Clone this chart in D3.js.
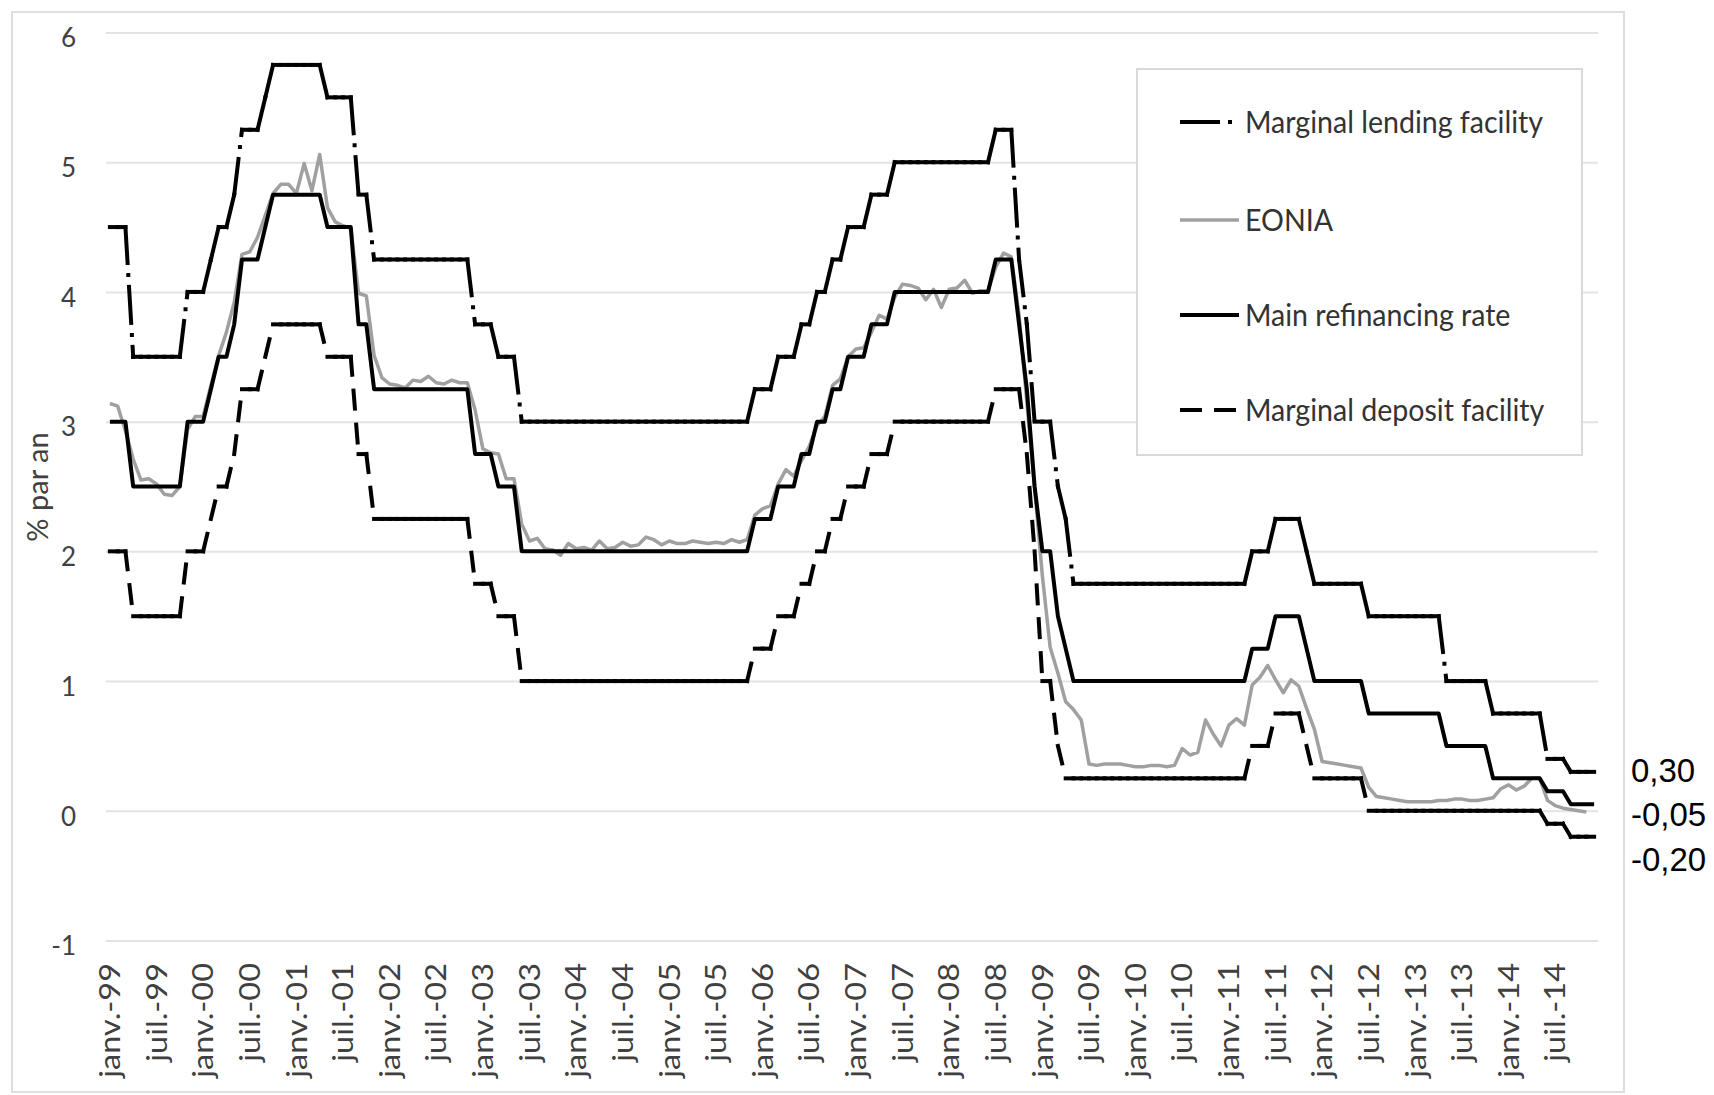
<!DOCTYPE html>
<html>
<head>
<meta charset="utf-8">
<script src="https://cdn.jsdelivr.net/npm/d3@7"></script>
<style>
body { margin: 0; background: #fff; }
</style>
</head>
<body>
<svg id="chart" width="1714" height="1095"></svg>
<script>
// monthly values, janv. 1999 -> dec. 2014 (one line per year)
var mlf = [
  4.5,4.5,4.5,3.5,3.5,3.5,3.5,3.5,3.5,3.5,4,4,
  4,4.25,4.5,4.5,4.75,5.25,5.25,5.25,5.5,5.75,5.75,5.75,
  5.75,5.75,5.75,5.75,5.5,5.5,5.5,5.5,4.75,4.75,4.25,4.25,
  4.25,4.25,4.25,4.25,4.25,4.25,4.25,4.25,4.25,4.25,4.25,3.75,
  3.75,3.75,3.5,3.5,3.5,3,3,3,3,3,3,3,
  3,3,3,3,3,3,3,3,3,3,3,3,
  3,3,3,3,3,3,3,3,3,3,3,3.25,
  3.25,3.25,3.5,3.5,3.5,3.75,3.75,4,4,4.25,4.25,4.5,
  4.5,4.5,4.75,4.75,4.75,5,5,5,5,5,5,5,
  5,5,5,5,5,5,5.25,5.25,5.25,4.25,3.75,3,
  3,3,2.5,2.25,1.75,1.75,1.75,1.75,1.75,1.75,1.75,1.75,
  1.75,1.75,1.75,1.75,1.75,1.75,1.75,1.75,1.75,1.75,1.75,1.75,
  1.75,1.75,1.75,2,2,2,2.25,2.25,2.25,2.25,2,1.75,
  1.75,1.75,1.75,1.75,1.75,1.75,1.5,1.5,1.5,1.5,1.5,1.5,
  1.5,1.5,1.5,1.5,1,1,1,1,1,1,0.75,0.75,
  0.75,0.75,0.75,0.75,0.75,0.4,0.4,0.4,0.3,0.3,0.3,0.3
];

// janv. 1999 -> nov. 2014
var eonia = [
  3.14,3.12,2.93,2.71,2.55,2.56,2.52,2.44,2.43,2.50,2.94,3.04,
  3.04,3.28,3.51,3.69,3.92,4.29,4.31,4.42,4.59,4.76,4.83,4.83,
  4.76,4.99,4.78,5.06,4.65,4.54,4.51,4.49,3.99,3.97,3.51,3.34,
  3.29,3.28,3.26,3.32,3.31,3.35,3.30,3.29,3.32,3.30,3.30,3.09,
  2.79,2.76,2.75,2.56,2.56,2.21,2.08,2.10,2.02,2.01,1.97,2.06,
  2.02,2.03,2.01,2.08,2.02,2.03,2.07,2.04,2.05,2.11,2.09,2.05,
  2.08,2.06,2.06,2.08,2.07,2.06,2.07,2.06,2.09,2.07,2.09,2.28,
  2.33,2.35,2.52,2.63,2.58,2.70,2.81,2.97,3.04,3.28,3.33,3.50,
  3.56,3.57,3.69,3.82,3.79,3.96,4.06,4.05,4.03,3.94,4.02,3.88,
  4.02,4.03,4.09,3.99,4.01,4.01,4.19,4.30,4.27,3.82,3.15,2.49,
  1.81,1.26,1.06,0.84,0.78,0.70,0.36,0.35,0.36,0.36,0.36,0.35,
  0.34,0.34,0.35,0.35,0.34,0.35,0.48,0.43,0.45,0.70,0.59,0.50,
  0.66,0.71,0.66,0.97,1.03,1.12,1.01,0.91,1.01,0.96,0.79,0.63,
  0.38,0.37,0.36,0.35,0.34,0.33,0.18,0.11,0.10,0.09,0.08,0.07,
  0.07,0.07,0.07,0.08,0.08,0.09,0.09,0.08,0.08,0.09,0.10,0.17,
  0.20,0.16,0.19,0.25,0.25,0.08,0.04,0.02,0.01,0.00,-0.01
];

var mro = [
  3,3,3,2.5,2.5,2.5,2.5,2.5,2.5,2.5,3,3,
  3,3.25,3.5,3.5,3.75,4.25,4.25,4.25,4.5,4.75,4.75,4.75,
  4.75,4.75,4.75,4.75,4.5,4.5,4.5,4.5,3.75,3.75,3.25,3.25,
  3.25,3.25,3.25,3.25,3.25,3.25,3.25,3.25,3.25,3.25,3.25,2.75,
  2.75,2.75,2.5,2.5,2.5,2,2,2,2,2,2,2,
  2,2,2,2,2,2,2,2,2,2,2,2,
  2,2,2,2,2,2,2,2,2,2,2,2.25,
  2.25,2.25,2.5,2.5,2.5,2.75,2.75,3,3,3.25,3.25,3.5,
  3.5,3.5,3.75,3.75,3.75,4,4,4,4,4,4,4,
  4,4,4,4,4,4,4.25,4.25,4.25,3.75,3.25,2.5,
  2,2,1.5,1.25,1,1,1,1,1,1,1,1,
  1,1,1,1,1,1,1,1,1,1,1,1,
  1,1,1,1.25,1.25,1.25,1.5,1.5,1.5,1.5,1.25,1,
  1,1,1,1,1,1,0.75,0.75,0.75,0.75,0.75,0.75,
  0.75,0.75,0.75,0.75,0.5,0.5,0.5,0.5,0.5,0.5,0.25,0.25,
  0.25,0.25,0.25,0.25,0.25,0.15,0.15,0.15,0.05,0.05,0.05,0.05
];

var dfr = [
  2,2,2,1.5,1.5,1.5,1.5,1.5,1.5,1.5,2,2,
  2,2.25,2.5,2.5,2.75,3.25,3.25,3.25,3.5,3.75,3.75,3.75,
  3.75,3.75,3.75,3.75,3.5,3.5,3.5,3.5,2.75,2.75,2.25,2.25,
  2.25,2.25,2.25,2.25,2.25,2.25,2.25,2.25,2.25,2.25,2.25,1.75,
  1.75,1.75,1.5,1.5,1.5,1,1,1,1,1,1,1,
  1,1,1,1,1,1,1,1,1,1,1,1,
  1,1,1,1,1,1,1,1,1,1,1,1.25,
  1.25,1.25,1.5,1.5,1.5,1.75,1.75,2,2,2.25,2.25,2.5,
  2.5,2.5,2.75,2.75,2.75,3,3,3,3,3,3,3,
  3,3,3,3,3,3,3.25,3.25,3.25,3.25,2.75,2,
  1,1,0.5,0.25,0.25,0.25,0.25,0.25,0.25,0.25,0.25,0.25,
  0.25,0.25,0.25,0.25,0.25,0.25,0.25,0.25,0.25,0.25,0.25,0.25,
  0.25,0.25,0.25,0.5,0.5,0.5,0.75,0.75,0.75,0.75,0.5,0.25,
  0.25,0.25,0.25,0.25,0.25,0.25,0,0,0,0,0,0,
  0,0,0,0,0,0,0,0,0,0,0,0,
  0,0,0,0,0,-0.1,-0.1,-0.1,-0.2,-0.2,-0.2,-0.2
];

var tickLabels = [
  "janv.-99","juil.-99","janv.-00","juil.-00","janv.-01","juil.-01","janv.-02","juil.-02",
  "janv.-03","juil.-03","janv.-04","juil.-04","janv.-05","juil.-05","janv.-06","juil.-06",
  "janv.-07","juil.-07","janv.-08","juil.-08","janv.-09","juil.-09","janv.-10","juil.-10",
  "janv.-11","juil.-11","janv.-12","juil.-12","janv.-13","juil.-13","janv.-14","juil.-14"
];
var yTicks = [-1, 0, 1, 2, 3, 4, 5, 6];
var endLabels = ["0,30", "-0,05", "-0,20"];

var svg = d3.select("#chart");
var left = 106, right = 1598;
var font = "Lato, 'Open Sans', sans-serif";

// outer frame
svg.append("rect").attr("x", 12).attr("y", 12).attr("width", 1612).attr("height", 1080)
  .attr("fill", "#fff").attr("stroke", "#dedede").attr("stroke-width", 2);

var x = d3.scaleBand().domain(d3.range(mro.length)).range([left, right]);
var y = d3.scaleLinear().domain([-1, 6]).range([940.5, 32.5]);
var cx = function(i) { return x(i) + x.bandwidth() / 2; };

// y axis + gridlines
var yAxis = svg.append("g").attr("transform", "translate(" + left + ",0)")
  .call(d3.axisLeft(y).tickValues(yTicks).tickSize(-(right - left)).tickPadding(30)
    .tickFormat(function(d) { return String(d); }));
yAxis.select(".domain").remove();
yAxis.selectAll("line").attr("stroke", "#e3e3e3").attr("stroke-width", 2);
yAxis.selectAll("text").attr("font-family", font).attr("font-size", 26)
  .attr("fill", "#404040").attr("dy", "0.55em");

svg.append("text").attr("transform", "translate(38,487) rotate(-90)")
  .attr("text-anchor", "middle").attr("dy", "0.35em")
  .attr("font-family", font).attr("font-size", 29).attr("fill", "#404040")
  .text("% par an");

// x axis labels, one every 6 months (the original text is a bit stretched lengthwise)
var xAxis = svg.append("g").attr("transform", "translate(0,963)")
  .call(d3.axisBottom(x).tickValues(d3.range(0, mro.length, 6)).tickSize(0)
    .tickFormat(function(d, i) { return tickLabels[i]; }));
xAxis.select(".domain").remove();
xAxis.selectAll("text").attr("x", 0).attr("y", 0).attr("dy", "0.35em")
  .attr("text-anchor", "end").attr("transform", "rotate(-90) scale(1.12,1)")
  .attr("font-family", font).attr("font-size", 29).attr("fill", "#404040");

// excel restarts the dash pattern at every point, so dashed series are drawn segment by segment
function segments(arr) {
  return d3.pairs(arr.map(function(v, i) { return [i, v]; }));
}
function dashed(arr, dash) {
  svg.append("g").selectAll("line").data(segments(arr)).join("line")
    .attr("x1", function(d) { return cx(d[0][0]); })
    .attr("y1", function(d) { return y(d[0][1]); })
    .attr("x2", function(d) { return cx(d[1][0]); })
    .attr("y2", function(d) { return y(d[1][1]); })
    .attr("stroke", "#000").attr("stroke-width", 4)
    .attr("stroke-linecap", "square").attr("stroke-dasharray", dash);
}
var line = d3.line().x(function(d, i) { return cx(i); }).y(function(d) { return y(d); });

dashed(mlf, "36,12,0,12");
svg.append("path").datum(eonia).attr("d", line).attr("fill", "none")
  .attr("stroke", "#a0a0a0").attr("stroke-width", 3.5).attr("stroke-linejoin", "round");
svg.append("path").datum(mro).attr("d", line).attr("fill", "none")
  .attr("stroke", "#000").attr("stroke-width", 4).attr("stroke-linejoin", "round");
dashed(dfr, "18,16");

// legend
var legend = [
  { name: "Marginal lending facility", color: "#000", w: 4, dash: "36,12,0,12", y: 122 },
  { name: "EONIA", color: "#a0a0a0", w: 3.5, dash: null, y: 220 },
  { name: "Main refinancing rate", color: "#000", w: 4, dash: null, y: 315 },
  { name: "Marginal deposit facility", color: "#000", w: 4, dash: "18,16", y: 410 }
];
svg.append("rect").attr("x", 1137).attr("y", 69).attr("width", 445).attr("height", 386)
  .attr("fill", "#fff").attr("stroke", "#d9d9d9").attr("stroke-width", 2);
var lg = svg.append("g").selectAll("g").data(legend).join("g")
  .attr("transform", function(d) { return "translate(0," + d.y + ")"; });
lg.append("line").attr("x1", function(d) { return d.dash ? 1182 : 1180; }).attr("x2", 1239)
  .attr("stroke", function(d) { return d.color; }).attr("stroke-width", function(d) { return d.w; })
  .attr("stroke-linecap", function(d) { return d.dash ? "square" : "butt"; })
  .attr("stroke-dasharray", function(d) { return d.dash; });
lg.append("text").attr("transform", "translate(1245,0) scale(1.02,1.1)").attr("dy", "0.36em")
  .attr("font-family", font).attr("font-size", 28).attr("fill", "#333")
  .text(function(d) { return d.name; });

// values written next to the end of the lines
svg.append("g").selectAll("text").data(endLabels).join("text")
  .attr("x", 1631).attr("y", function(d, i) { return [782, 826, 871][i]; })
  .attr("font-family", "'Liberation Sans', Arial, sans-serif").attr("font-size", 33).attr("fill", "#000")
  .text(function(d) { return d; });
</script>
</body>
</html>
